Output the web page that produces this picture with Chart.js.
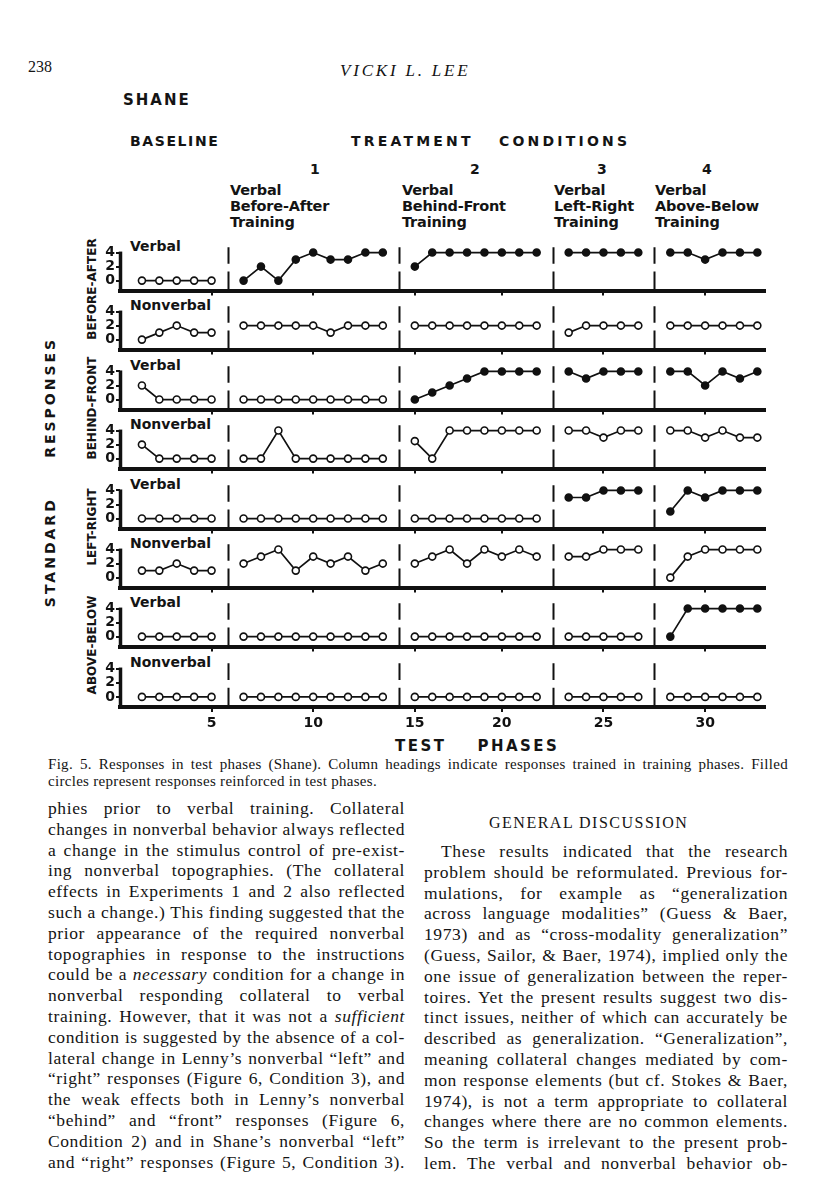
<!DOCTYPE html>
<html>
<head>
<meta charset="utf-8">
<script src="https://cdn.jsdelivr.net/npm/chart.js@4.4.1/dist/chart.umd.min.js"></script>
<style>
html,body{margin:0;padding:0;background:#fff;}
body{width:816px;height:1200px;position:relative;overflow:hidden;color:#141414;}
.t{position:absolute;white-space:nowrap;}
.sans{font-family:"DejaVu Sans",sans-serif;font-weight:bold;}
.serif{font-family:"Liberation Serif","Times New Roman",serif;}
.rot{position:absolute;white-space:nowrap;transform:translate(-50%,-50%) rotate(-90deg);}
.jl{position:absolute;white-space:nowrap;text-align:justify;text-align-last:justify;}
.panel{position:absolute;left:95px;}
</style>
</head>
<body>
<div class="t serif" style="left:28px;top:58px;font-size:16px;">238</div>
<div class="t serif" style="left:340px;top:61px;font-size:17px;font-style:italic;letter-spacing:2.8px;">VICKI L. LEE</div>
<div class="t sans" style="left:123px;top:91px;font-size:15px;letter-spacing:2px;">SHANE</div>
<div class="t sans" style="left:130px;top:133px;font-size:14px;letter-spacing:1.6px;">BASELINE</div>
<div class="t sans" style="left:351px;top:133px;font-size:14px;letter-spacing:3.2px;">TREATMENT</div>
<div class="t sans" style="left:499px;top:133px;font-size:14px;letter-spacing:3.2px;">CONDITIONS</div>

<div id="figtext"></div>
<div id="panels"></div>

<div class="rot sans" style="left:50px;top:472px;font-size:14px;letter-spacing:3px;">STANDARD&nbsp;&nbsp;&nbsp;&nbsp;&nbsp;RESPONSES</div>

<div class="t sans" style="left:395px;top:737px;font-size:15px;letter-spacing:2.5px;">TEST&nbsp;&nbsp;&nbsp;&nbsp;PHASES</div>

<div id="body"></div>

<script>
// ---------------- data ----------------
const PHASE_NAMES = ['Baseline', '1', '2', '3', '4'];
const PHASE_NUMBERS = ['1', '2', '3', '4'];
const PHASE_HEADINGS = [
  ['Verbal', 'Before-After', 'Training'],
  ['Verbal', 'Behind-Front', 'Training'],
  ['Verbal', 'Left-Right', 'Training'],
  ['Verbal', 'Above-Below', 'Training']
];
const PHASE_FIRST_SESSION = [1, 6, 15, 23, 28];
const X_TICK_SESSIONS = [5, 10, 15, 20, 25, 30];
const X_TICK_LABELS = ['5', '10', '15', '20', '25', '30'];
const Y_TICKS = [0, 2, 4];
const Y_TICK_LABELS = ['0', '2', '4'];

const RESPONSE_GROUPS = ['BEFORE-AFTER', 'BEHIND-FRONT', 'LEFT-RIGHT', 'ABOVE-BELOW'];
const ROW_LABELS = ['Verbal', 'Nonverbal', 'Verbal', 'Nonverbal', 'Verbal', 'Nonverbal', 'Verbal', 'Nonverbal'];

// values per phase (Baseline, 1, 2, 3, 4)
const beforeAfterVerbal    = [[0,0,0,0,0], [0,2,0,3,4,3,3,4,4], [2,4,4,4,4,4,4,4], [4,4,4,4,4], [4,4,3,4,4,4]];
const beforeAfterNonverbal = [[0,1,2,1,1], [2,2,2,2,2,1,2,2,2], [2,2,2,2,2,2,2,2], [1,2,2,2,2], [2,2,2,2,2,2]];
const behindFrontVerbal    = [[2,0,0,0,0], [0,0,0,0,0,0,0,0,0], [0,1,2,3,4,4,4,4], [4,3,4,4,4], [4,4,2,4,3,4]];
const behindFrontNonverbal = [[2,0,0,0,0], [0,0,4,0,0,0,0,0,0], [2.5,0,4,4,4,4,4,4], [4,4,3,4,4], [4,4,3,4,3,3]];
const leftRightVerbal      = [[0,0,0,0,0], [0,0,0,0,0,0,0,0,0], [0,0,0,0,0,0,0,0], [3,3,4,4,4], [1,4,3,4,4,4]];
const leftRightNonverbal   = [[1,1,2,1,1], [2,3,4,1,3,2,3,1,2], [2,3,4,2,4,3,4,3], [3,3,4,4,4], [0,3,4,4,4,4]];
const aboveBelowVerbal     = [[0,0,0,0,0], [0,0,0,0,0,0,0,0,0], [0,0,0,0,0,0,0,0], [0,0,0,0,0], [0,4,4,4,4,4]];
const aboveBelowNonverbal  = [[0,0,0,0,0], [0,0,0,0,0,0,0,0,0], [0,0,0,0,0,0,0,0], [0,0,0,0,0], [0,0,0,0,0,0]];

// filled circles = reinforced in test phases
const beforeAfterVerbalFilled = [false, true, true, true, true];
const behindFrontVerbalFilled = [false, false, true, true, true];
const leftRightVerbalFilled   = [false, false, false, true, true];
const aboveBelowVerbalFilled  = [false, false, false, false, true];
const nonverbalFilled         = [false, false, false, false, false];

const ROWS = [
  [beforeAfterVerbal, beforeAfterVerbalFilled],
  [beforeAfterNonverbal, nonverbalFilled],
  [behindFrontVerbal, behindFrontVerbalFilled],
  [behindFrontNonverbal, nonverbalFilled],
  [leftRightVerbal, leftRightVerbalFilled],
  [leftRightNonverbal, nonverbalFilled],
  [aboveBelowVerbal, aboveBelowVerbalFilled],
  [aboveBelowNonverbal, nonverbalFilled]
];

// ---------------- layout ----------------
const PHASE_GAP = 0.84;          // extra axis space between phases
const X_MIN = -0.26, X_MAX = 36.8;
const PX_PER_UNIT_Y = 8.4;
const ZERO_TO_AXIS = 12;         // px between 0-level and the axis line
const FIRST_AXIS = 291, ROW_PITCH = 59.4;
const CANVAS_W = 680, Y_AXIS_W = 25, RIGHT_PAD = 10;

function phaseOf(s) { let p = 0; for (let i = 0; i < PHASE_FIRST_SESSION.length; i++) if (s >= PHASE_FIRST_SESSION[i]) p = i; return p; }
function pos(s) { return s + PHASE_GAP * phaseOf(s); }

const boundaries = [];
for (let i = 1; i < PHASE_FIRST_SESSION.length; i++) {
  const f = PHASE_FIRST_SESSION[i];
  boundaries.push((pos(f - 1) + pos(f)) / 2);
}

const decor = {
  id: 'decor',
  beforeDatasetsDraw(chart) {
    const { ctx, chartArea, scales: { x, y } } = chart;
    ctx.save();
    ctx.strokeStyle = '#111';
    ctx.lineWidth = 2;
    boundaries.forEach(b => {
      const px = Math.round(x.getPixelForValue(b)) + 0.5;
      ctx.beginPath();
      ctx.moveTo(px, y.getPixelForValue(4.75));
      ctx.lineTo(px, y.getPixelForValue(2.4));
      ctx.moveTo(px, y.getPixelForValue(1.3));
      ctx.lineTo(px, chartArea.bottom);
      ctx.stroke();
    });
    ctx.restore();
  },
  afterDraw(chart) {
    const { ctx, chartArea, scales: { y } } = chart;
    ctx.save();
    ctx.strokeStyle = '#111';
    ctx.lineWidth = 3.5;
    ctx.beginPath();
    ctx.moveTo(chartArea.left + 0.5, y.getPixelForValue(4) - 1);
    ctx.lineTo(chartArea.left + 0.5, chartArea.bottom + 2);
    ctx.stroke();
    ctx.restore();
  }
};

const panelsDiv = document.getElementById('panels');
const figText = document.getElementById('figtext');

function addText(parent, cls, txt, left, centerY, size, extra) {
  const d = document.createElement('div');
  d.className = cls;
  d.textContent = txt;
  d.style.left = left + 'px';
  d.style.top = (centerY - size * 0.62) + 'px';
  d.style.fontSize = size + 'px';
  d.style.lineHeight = (size * 1.24) + 'px';
  if (extra) Object.assign(d.style, extra);
  parent.appendChild(d);
  return d;
}

// column numbers and headings
const NUM_X = [314, 474, 601, 706];
PHASE_NUMBERS.forEach((n, i) => addText(figText, 't sans', n, NUM_X[i] - 4, 170, 14));
const HEAD_X = [230, 402, 554, 655];
PHASE_HEADINGS.forEach((lines, i) => {
  lines.forEach((l, j) => addText(figText, 't sans', l, HEAD_X[i], 191 + j * 16, 14.5, { letterSpacing: '-0.2px' }));
});

ROWS.forEach((row, k) => {
  const [vals, filled] = row;
  const last = k === ROWS.length - 1;
  const areaBottom = Math.round(FIRST_AXIS + ROW_PITCH * k);
  const areaTop = Math.round(FIRST_AXIS + ROW_PITCH * (k - 1));
  const areaH = areaBottom - areaTop;
  const xAxisH = last ? 28 : 9;
  const yMin = -ZERO_TO_AXIS / PX_PER_UNIT_Y;
  const yMax = yMin + areaH / PX_PER_UNIT_Y;

  const wrap = document.createElement('div');
  wrap.className = 'panel';
  wrap.style.top = areaTop + 'px';
  wrap.style.width = CANVAS_W + 'px';
  wrap.style.height = (areaH + xAxisH) + 'px';
  const cv = document.createElement('canvas');
  cv.width = CANVAS_W; cv.height = areaH + xAxisH;
  cv.style.width = CANVAS_W + 'px'; cv.style.height = (areaH + xAxisH) + 'px';
  wrap.appendChild(cv);
  panelsDiv.appendChild(wrap);

  const datasets = vals.map((pv, p) => ({
    label: PHASE_NAMES[p],
    data: pv.map((v, i) => ({ x: pos(PHASE_FIRST_SESSION[p] + i), y: v })),
    borderColor: '#111',
    borderWidth: 1.7,
    pointRadius: 3.5,
    pointBorderWidth: 1.6,
    pointBorderColor: '#111',
    pointBackgroundColor: filled[p] ? '#111' : '#fff',
    fill: false,
    tension: 0
  }));

  new Chart(cv, {
    type: 'line',
    data: { datasets },
    options: {
      responsive: false,
      animation: false,
      devicePixelRatio: 1,
      events: [],
      layout: { padding: { left: 0, right: RIGHT_PAD, top: 0, bottom: 0 } },
      plugins: { legend: { display: false }, tooltip: { enabled: false } },
      scales: {
        x: {
          type: 'linear', min: X_MIN, max: X_MAX,
          afterBuildTicks: s => { s.ticks = X_TICK_SESSIONS.map(v => ({ value: pos(v) })); },
          afterFit: s => { s.height = xAxisH; },
          ticks: {
            display: last, color: '#111', padding: 3, maxRotation: 0, autoSkip: false,
            font: { family: 'DejaVu Sans', weight: 'bold', size: 14 },
            callback: (v, i) => X_TICK_LABELS[i]
          },
          grid: { drawOnChartArea: false, drawTicks: true, tickLength: 5, color: '#111', lineWidth: 2 },
          border: { display: true, color: '#111', width: 4 }
        },
        y: {
          type: 'linear', min: yMin, max: yMax,
          afterBuildTicks: s => { s.ticks = Y_TICKS.map(v => ({ value: v })); },
          afterFit: s => { s.width = Y_AXIS_W; },
          ticks: {
            color: '#111', padding: 1, autoSkip: false,
            font: { family: 'DejaVu Sans', weight: 'bold', size: 14 },
            callback: (v, i) => Y_TICK_LABELS[i]
          },
          grid: { drawOnChartArea: false, drawTicks: true, tickLength: 4, color: '#111', lineWidth: 2 },
          border: { display: false }
        }
      }
    },
    plugins: [decor]
  });

  // row label at the 4-level
  const fourY = areaBottom - ZERO_TO_AXIS - 4 * PX_PER_UNIT_Y;
  addText(figText, 't sans', ROW_LABELS[k], 130, fourY + 1, 14);
});

// response group labels (rotated), centred on their pair of rows
RESPONSE_GROUPS.forEach((g, i) => {
  const d = document.createElement('div');
  d.className = 'rot sans';
  d.textContent = g;
  d.style.left = '92px';
  d.style.top = Math.round(FIRST_AXIS + ROW_PITCH * 2 * i - 2) + 'px';
  d.style.fontSize = '12px';
  figText.appendChild(d);
});

// ---------------- caption & body text ----------------
const bodyDiv = document.getElementById('body');
const CAPTION = [
  'Fig. 5. Responses in test phases (Shane). Column headings indicate responses trained in training phases. Filled',
  'circles represent responses reinforced in test phases.'
];
function addLine(html, left, width, cy, size, justify, ls) {
  const d = document.createElement('div');
  d.className = justify ? 'jl serif' : 't serif';
  d.innerHTML = html;
  d.style.left = left + 'px';
  d.style.fontSize = size + 'px';
  d.style.lineHeight = '20px';
  d.style.top = (cy - 10) + 'px';
  d.style.letterSpacing = ls + 'px';
  bodyDiv.appendChild(d);
  if (justify) {
    // shrink letter spacing until the natural width fits the column
    d.style.width = 'auto';
    let cur = ls;
    while (d.getBoundingClientRect().width > width && cur > -0.6) {
      cur -= 0.05;
      d.style.letterSpacing = cur + 'px';
    }
    d.style.width = width + 'px';
  }
}
addLine(CAPTION[0], 48, 740, 764, 15, true, 0.3);
addLine(CAPTION[1], 48, 0, 781, 15, false, 0.3);

const LEFT_LINES = [
  'phies prior to verbal training. Collateral',
  'changes in nonverbal behavior always reflected',
  'a change in the stimulus control of pre-exist-',
  'ing nonverbal topographies. (The collateral',
  'effects in Experiments 1 and 2 also reflected',
  'such a change.) This finding suggested that the',
  'prior appearance of the required nonverbal',
  'topographies in response to the instructions',
  'could be a <i>necessary</i> condition for a change in',
  'nonverbal responding collateral to verbal',
  'training. However, that it was not a <i>sufficient</i>',
  'condition is suggested by the absence of a col-',
  'lateral change in Lenny’s nonverbal “left” and',
  '“right” responses (Figure 6, Condition 3), and',
  'the weak effects both in Lenny’s nonverbal',
  '“behind” and “front” responses (Figure 6,',
  'Condition 2) and in Shane’s nonverbal “left”',
  'and “right” responses (Figure 5, Condition 3).'
];
const RIGHT_LINES = [
  'problem should be reformulated. Previous for-',
  'mulations, for example as “generalization',
  'across language modalities” (Guess &amp; Baer,',
  '1973) and as “cross-modality generalization”',
  '(Guess, Sailor, &amp; Baer, 1974), implied only the',
  'one issue of generalization between the reper-',
  'toires. Yet the present results suggest two dis-',
  'tinct issues, neither of which can accurately be',
  'described as generalization. “Generalization”,',
  'meaning collateral changes mediated by com-',
  'mon response elements (but cf. Stokes &amp; Baer,',
  '1974), is not a term appropriate to collateral',
  'changes where there are no common elements.',
  'So the term is irrelevant to the present prob-',
  'lem. The verbal and nonverbal behavior ob-'
];
const LINE_PITCH = 20.8;
LEFT_LINES.forEach((l, i) => addLine(l, 48, 357, 808 + i * LINE_PITCH, 17.5, true, 0.6));
const h = document.createElement('div');
h.className = 't serif';
h.textContent = 'GENERAL DISCUSSION';
h.style.cssText = 'left:489px;top:813px;font-size:16px;line-height:20px;letter-spacing:1.5px;';
bodyDiv.appendChild(h);
addLine('These results indicated that the research', 441, 347, 851, 17.5, true, 0.6);
RIGHT_LINES.forEach((l, i) => addLine(l, 424, 364, 851 + (i + 1) * LINE_PITCH, 17.5, true, 0.6));
</script>
</body>
</html>
